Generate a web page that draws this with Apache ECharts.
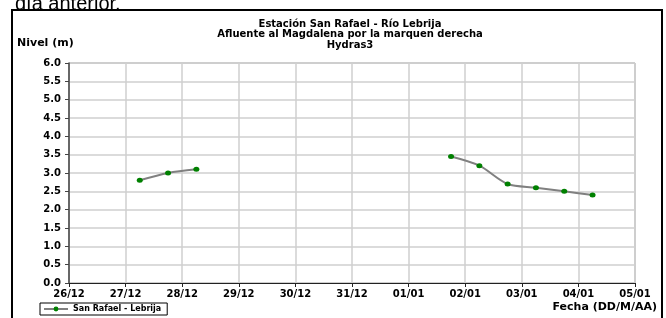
<!DOCTYPE html>
<html>
<head>
<meta charset="utf-8">
<script src="https://cdn.jsdelivr.net/npm/echarts@6/dist/echarts.min.js"></script>
<style>
  html, body { margin: 0; padding: 0; background: #fff; }
  #chart { width: 666px; height: 318px; }
</style>
</head>
<body>
<div id="chart"></div>
<script>
const titleLines = [
  "Estación San Rafael - Río Lebrija",
  "Afluente al Magdalena por la marquen derecha",
  "Hydras3"
];
const seriesName = "San Rafael - Lebrija";
const dayLabels = ["26/12", "27/12", "28/12", "29/12", "30/12", "31/12", "01/01", "02/01", "03/01", "04/01", "05/01"];

// readings twice a day; null level = no data (line breaks)
const readingTimes = [
  "2010-12-27T06:00:00Z", "2010-12-27T18:00:00Z", "2010-12-28T06:00:00Z",
  "2010-12-30T00:00:00Z",
  "2011-01-01T18:00:00Z", "2011-01-02T06:00:00Z", "2011-01-02T18:00:00Z",
  "2011-01-03T06:00:00Z", "2011-01-03T18:00:00Z", "2011-01-04T06:00:00Z"
];
const levels = [2.8, 3.0, 3.1, null, 3.45, 3.2, 2.7, 2.6, 2.5, 2.4];

const DAY = 86400000;
const xMin = Date.UTC(2010, 11, 26);
const xMax = Date.UTC(2011, 0, 5);
const FONT = "DejaVu Sans";

const points = readingTimes.map((t, i) => [new Date(t).getTime(), levels[i] === null ? "-" : levels[i]]);

const chart = echarts.init(document.getElementById("chart"), null, { renderer: "canvas" });

chart.setOption({
  animation: false,
  backgroundColor: "#fff",
  grid: {
    left: 69, right: 31, top: 63, bottom: 35,
    show: true, borderColor: "#999", borderWidth: 1, backgroundColor: "transparent"
  },
  legend: {
    left: 40, top: 303,
    padding: [2, 6, 2, 3],
    borderColor: "#000", borderWidth: 1, backgroundColor: "#fff",
    itemWidth: 24, itemHeight: 6, itemGap: 4,
    textStyle: { fontFamily: FONT, fontWeight: "bold", fontSize: 8, color: "#000" },
    data: [seriesName]
  },
  xAxis: {
    type: "value",
    min: xMin, max: xMax, interval: DAY,
    axisLine: { lineStyle: { color: "#222", width: 1 } },
    axisTick: { show: true, length: 4, lineStyle: { color: "#222" } },
    axisLabel: {
      margin: 6, color: "#000", fontFamily: FONT, fontWeight: "bold", fontSize: 10,
      formatter: (v) => dayLabels[Math.round((v - xMin) / DAY)] ?? ""
    },
    splitLine: { show: true, lineStyle: { color: "#cfcfcf", width: 1.5 } }
  },
  yAxis: {
    type: "value",
    min: 0, max: 6, interval: 0.5,
    axisLine: { show: true, lineStyle: { color: "#444", width: 1.5 } },
    axisTick: { show: true, length: 4, lineStyle: { color: "#444" } },
    axisLabel: {
      margin: 8, color: "#000", fontFamily: FONT, fontWeight: "bold", fontSize: 10,
      formatter: (v) => v.toFixed(1)
    },
    splitLine: { show: true, lineStyle: { color: "#cfcfcf", width: 1.5 } }
  },
  series: [
    {
      name: seriesName,
      type: "line",
      data: points,
      connectNulls: false,
      smooth: 0.3,
      symbol: "circle",
      symbolSize: [6, 5],
      itemStyle: { color: "#008000" },
      lineStyle: { color: "#808080", width: 2 }
    }
  ],
  graphic: [
    {
      type: "text", left: null, z: 10,
      style: { x: 15, y: 14, text: "día anterior.", font: "20px 'Liberation Sans'", fill: "#000", verticalAlign: "bottom" }
    },
    {
      type: "rect", z: 10, silent: true,
      shape: { x: 12, y: 10, width: 650, height: 330 },
      style: { fill: null, stroke: "#000", lineWidth: 2 }
    },
    {
      type: "text", z: 10,
      style: {
        x: 350, y: 19, text: titleLines.join("\n"), align: "center", verticalAlign: "top",
        font: "bold 10px '" + FONT + "'", lineHeight: 10.5, fill: "#000"
      }
    },
    {
      type: "text", z: 10,
      style: { x: 17, y: 43, text: "Nivel (m)", verticalAlign: "middle", font: "bold 11px '" + FONT + "'", fill: "#000" }
    },
    {
      type: "text", z: 10,
      style: { x: 657, y: 307, text: "Fecha (DD/M/AA)", align: "right", verticalAlign: "middle", font: "bold 11px '" + FONT + "'", fill: "#000" }
    }
  ]
});
</script>
</body>
</html>
